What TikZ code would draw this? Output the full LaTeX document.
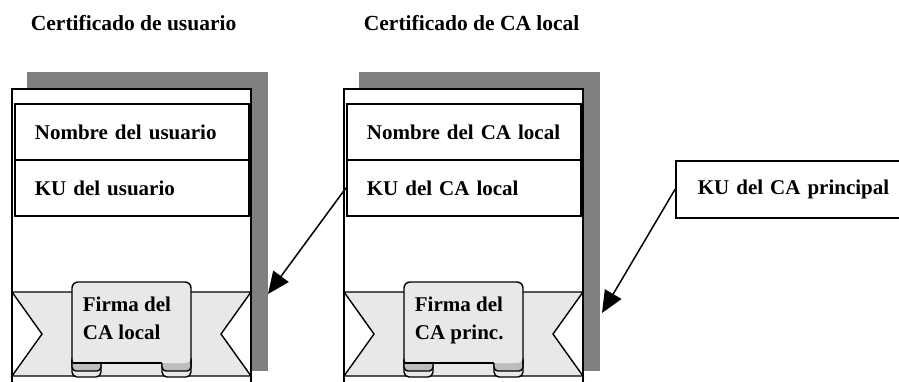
\documentclass[tikz,border=0pt]{standalone}
\usepackage{fontspec}
\setmainfont{Liberation Serif}
\usetikzlibrary{arrows.meta}
\definecolor{shadowgray}{HTML}{808080}
\definecolor{ribbongray}{HTML}{E8E8E8}
\definecolor{curlgray}{HTML}{BDBDBD}
\begin{document}
\begin{tikzpicture}[x=1pt,y=-1pt,line width=1.8pt,
  txt/.style={font=\fontsize{21}{25}\selectfont\bfseries,inner sep=0pt,anchor=base west},
  ttl/.style={font=\fontsize{21.5}{25}\selectfont\bfseries,inner sep=0pt,anchor=base west},
  field/.style={draw,anchor=north west,minimum height=56pt,text width=194pt,inner xsep=20pt,inner ysep=0pt,align=left,font=\fontsize{21}{25}\selectfont\bfseries},
  ribbon/.style={fill=ribbongray,draw=black,line width=1.4pt,line join=miter},
  curl/.style={fill=curlgray,draw=black,line width=1.4pt},
  link/.style={-{Triangle[length=22pt,width=19pt]},line width=1.5pt}]
\useasboundingbox (0,0) rectangle (899,381);

% titles
\node[ttl] (t1) at (30,30) {Certificado de usuario};
\node[ttl] (t2) at (363,30) {Certificado de CA local};

% certificates
\foreach \dx/\na/\nb/\fa/\fb/\id in {0/Nombre del usuario/KU del usuario/Firma del/CA local/a,
                                     332/Nombre del CA local/KU del CA local/Firma del/CA princ./b}{
  \begin{scope}[xshift=\dx pt]
    \fill[shadowgray] (27,72) rectangle (268,371);
    \filldraw[fill=white] (12,89) rectangle (251,395);
    \node[field] (n\id) at (14,103) {\na};
    \node[field] (k\id) at (14,159) {\nb};
    % ribbon band
    \filldraw[ribbon] (12,292) -- (251,292) -- (221,334) -- (251,376) -- (12,376) -- (42,334) -- cycle;
    % curls
    \filldraw[ribbon,rounded corners=5pt] (72,358) -- (72,377) -- (101,377) -- (101,358);
    \filldraw[curl,rounded corners=4pt] (72,360) -- (72,371) -- (101,371) -- (101,360);
    \filldraw[ribbon,rounded corners=5pt] (162,358) -- (162,377) -- (191,377) -- (191,358);
    \filldraw[curl,rounded corners=4pt] (162,360) -- (162,371) -- (191,371) -- (191,360);
    % panel
    \fill[ribbongray,rounded corners=6pt] (72,363) -- (72,282) -- (191,282) -- (191,363) -- cycle;
    \draw[line width=1.4pt,rounded corners=6pt] (72,364) -- (72,282) -- (191,282) -- (191,366);
    \draw[line width=1.4pt] (72,363) -- (162,363);
    \node[txt] (f\id) at (82,311) {\fa};
    \node[txt] (g\id) at (82,339) {\fb};
  \end{scope}
}

% principal key box
\node[field,text width=220pt,inner xsep=22pt,minimum height=57pt] (kp) at (675,160) {KU del CA principal};

% arrows
\coordinate (tipa) at (268,294);
\coordinate (tipb) at (602,313);
\draw[link] (kb.west) -- (tipa);
\draw[link] (kp.west) -- (tipb);
\end{tikzpicture}
\end{document}
